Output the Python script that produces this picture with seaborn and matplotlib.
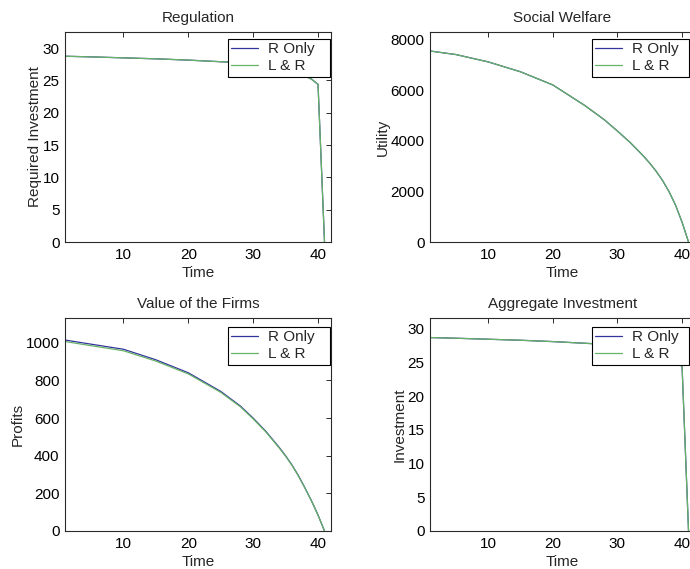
import matplotlib
matplotlib.use("Agg")
import matplotlib.pyplot as plt
import seaborn as sns
import pandas as pd

# ---- data ----
time = [1, 5, 10, 15, 20, 25, 28, 30, 32, 34, 35, 36, 37, 38, 39, 40, 41]

reg_r_only = [28.75, 28.65, 28.5, 28.35, 28.15, 27.9, 27.75, 27.6, 27.35, 27.0, 26.75, 26.45, 26.1, 25.7, 25.2, 24.4, 0.0]
reg_l_and_r = [28.75, 28.65, 28.5, 28.35, 28.15, 27.9, 27.75, 27.6, 27.35, 27.0, 26.75, 26.45, 26.1, 25.7, 25.2, 24.4, 0.0]

welfare_r_only = [7540, 7400, 7110, 6720, 6200, 5380, 4820, 4380, 3920, 3400, 3110, 2790, 2420, 1980, 1450, 780, 0]
welfare_l_and_r = [7540, 7400, 7110, 6720, 6200, 5380, 4820, 4380, 3920, 3400, 3110, 2790, 2420, 1980, 1450, 780, 0]

profit_r_only = [1015, 993, 966, 910, 841, 742, 665, 600, 528, 445, 400, 350, 293, 228, 160, 85, 0]
profit_l_and_r = [1007, 985, 958, 903, 835, 737, 661, 596, 525, 442, 398, 348, 291, 227, 159, 84, 0]

inv_r_only = [28.7, 28.6, 28.45, 28.3, 28.1, 27.85, 27.7, 27.55, 27.3, 26.95, 26.7, 26.4, 26.05, 25.65, 25.15, 24.4, 0.0]
inv_l_and_r = [28.7, 28.6, 28.45, 28.3, 28.1, 27.85, 27.7, 27.55, 27.3, 26.95, 26.7, 26.4, 26.05, 25.65, 25.15, 24.4, 0.0]

series_names = ["R Only", "L & R"]
titles = ["Regulation", "Social Welfare", "Value of the Firms", "Aggregate Investment"]
ylabels = ["Required Investment", "Utility", "Profits", "Investment"]
xlabel = "Time"
xticks = [10, 20, 30, 40]
yticks = [
    [0, 5, 10, 15, 20, 25, 30],
    [0, 2000, 4000, 6000, 8000],
    [0, 200, 400, 600, 800, 1000],
    [0, 5, 10, 15, 20, 25, 30],
]
ylims = [(0, 32.5), (0, 8290), (0, 1132), (0, 31.6)]
panel_data = [
    (reg_r_only, reg_l_and_r),
    (welfare_r_only, welfare_l_and_r),
    (profit_r_only, profit_l_and_r),
    (inv_r_only, inv_l_and_r),
]

# ---- style ----
sns.set_style("white")
plt.rcParams["font.family"] = ["Liberation Sans", "DejaVu Sans"]
FS = 11
plt.rcParams["font.size"] = FS
plt.rcParams["axes.edgecolor"] = "#2a2a2a"
plt.rcParams["axes.linewidth"] = 0.8

colors = ["#3434a0", "#66b266"]

W, H = 690, 569
fig = plt.figure(figsize=(W / 100, H / 100), dpi=100)
fig.patch.set_facecolor("white")

# pixel boxes: (left, top, width, height)
boxes = [
    (65, 32, 266, 210),
    (430, 32, 265, 210),
    (65, 318, 266, 213),
    (430, 318, 265, 213),
]
# legend boxes in pixels: (left, top, width)
legend_px = [
    (228, 39, 102),
    (592, 39, 97),
    (228, 327, 102),
    (592, 327, 97),
]

for i, (l, t, w, h) in enumerate(boxes):
    ax = fig.add_axes([l / W, 1 - (t + h) / H, w / W, h / H])
    r_only, l_and_r = panel_data[i]
    df = pd.DataFrame({
        "Time": time * 2,
        "Value": list(r_only) + list(l_and_r),
        "Series": [series_names[0]] * len(time) + [series_names[1]] * len(time),
    })
    sns.lineplot(data=df, x="Time", y="Value", hue="Series", palette=colors,
                 hue_order=series_names, ax=ax, linewidth=0.9, estimator=None,
                 sort=False)
    ax.set_xlim(1, 42)
    ax.set_ylim(*ylims[i])
    ax.set_xticks(xticks)
    ax.set_yticks(yticks[i])
    ax.set_title(titles[i], fontsize=FS, pad=7)
    ax.set_xlabel(xlabel, fontsize=FS, labelpad=3)
    ax.set_ylabel(ylabels[i], fontsize=FS, labelpad=0.5)
    ax.tick_params(direction="in", length=3.5, width=0.7, top=True, right=True,
                   colors="#2a2a2a", labelcolor="black", pad=4, labelsize=FS)
    for s in ax.spines.values():
        s.set_visible(True)
    ll, lt, lw = legend_px[i]
    x0 = (ll - l) / w
    wid = lw / w
    top = (t + h - lt) / h
    leg = ax.legend(loc="upper left", bbox_to_anchor=(x0, 0, wid, top),
                    mode="expand", borderaxespad=0.0, frameon=True,
                    fancybox=False, edgecolor="black", framealpha=1,
                    fontsize=FS, handlelength=1.75, handletextpad=0.65,
                    borderpad=0.22, labelspacing=0.2)
    leg.get_frame().set_linewidth(0.8)

fig.savefig("out.png", dpi=100)
